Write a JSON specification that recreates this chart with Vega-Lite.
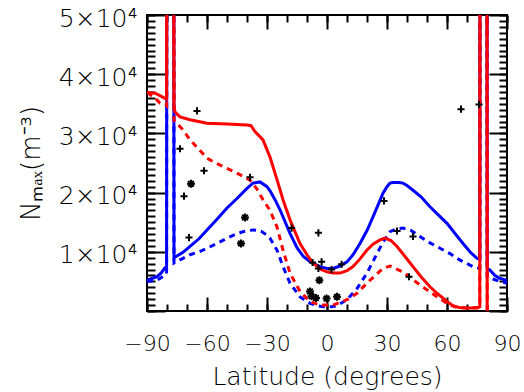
{
  "$schema": "https://vega.github.io/schema/vega-lite/v6.json",
  "width": 360,
  "height": 296,
  "autosize": {"type": "none"},
  "padding": {"left": 147, "top": 15, "right": 17, "bottom": 81},
  "background": "white",
  "config": {
    "view": {"stroke": "black", "strokeWidth": 2},
    "font": "DejaVu Sans",
    "axis": {"domain": false, "grid": false, "tickColor": "black", "tickWidth": 2, "labelColor": "black", "titleColor": "black", "labelFont": "DejaVu Sans", "titleFont": "DejaVu Sans", "titleFontWeight": 200, "labelFontWeight": 200}
  },
  "datasets": {
    "rs": [
      {"lat": -90, "n": 36900}, {"lat": -86, "n": 36800}, {"lat": -83, "n": 36300}, {"lat": -81, "n": 35900},
      {"lat": -80.2, "n": 35800}, {"lat": -80.1, "n": 60000}, {"lat": -76.6, "n": 60000}, {"lat": -76.5, "n": 34500},
      {"lat": -76, "n": 33600}, {"lat": -73.5, "n": 32800}, {"lat": -68.5, "n": 32300}, {"lat": -60, "n": 31700},
      {"lat": -50, "n": 31600}, {"lat": -40, "n": 31400}, {"lat": -38, "n": 31300}, {"lat": -36, "n": 30300},
      {"lat": -32, "n": 28900}, {"lat": -28.5, "n": 26000}, {"lat": -25, "n": 22200}, {"lat": -22, "n": 18800},
      {"lat": -18.5, "n": 15400}, {"lat": -13.5, "n": 11400}, {"lat": -10, "n": 9500}, {"lat": -7, "n": 8100},
      {"lat": -3, "n": 7000}, {"lat": 0, "n": 6600}, {"lat": 3, "n": 6400}, {"lat": 6.5, "n": 6400},
      {"lat": 10, "n": 6800}, {"lat": 13, "n": 7500}, {"lat": 16.5, "n": 8800}, {"lat": 20, "n": 10300},
      {"lat": 23, "n": 11300}, {"lat": 26.5, "n": 12000}, {"lat": 29, "n": 12300}, {"lat": 32, "n": 11900},
      {"lat": 35, "n": 10900}, {"lat": 39, "n": 9200}, {"lat": 43, "n": 7500}, {"lat": 47, "n": 5800},
      {"lat": 51.5, "n": 4100}, {"lat": 55, "n": 3000}, {"lat": 60, "n": 1600}, {"lat": 63, "n": 900},
      {"lat": 66, "n": 600}, {"lat": 70, "n": 500}, {"lat": 75, "n": 500}, {"lat": 76.4, "n": 700},
      {"lat": 76.5, "n": 60000}, {"lat": 80, "n": 60000}, {"lat": 80.1, "n": -2000}, {"lat": 90, "n": -2000}
    ],
    "rd": [
      {"lat": -90, "n": 36900}, {"lat": -86, "n": 36000}, {"lat": -83.5, "n": 35100}, {"lat": -80.5, "n": 34800},
      {"lat": -80.2, "n": 34700}, {"lat": -80.1, "n": 60000}, {"lat": -76.6, "n": 60000}, {"lat": -76.5, "n": 32200},
      {"lat": -75, "n": 31700}, {"lat": -72, "n": 30600}, {"lat": -68.5, "n": 28900}, {"lat": -64, "n": 27300},
      {"lat": -60, "n": 25800}, {"lat": -55, "n": 24900}, {"lat": -50, "n": 24100}, {"lat": -45, "n": 23300},
      {"lat": -38.5, "n": 22100}, {"lat": -35, "n": 20600}, {"lat": -32, "n": 18800}, {"lat": -28.5, "n": 17000},
      {"lat": -25, "n": 14200}, {"lat": -22, "n": 10300}, {"lat": -18.5, "n": 6400}, {"lat": -13.5, "n": 3300},
      {"lat": -8.5, "n": 1600}, {"lat": -3.5, "n": 1000}, {"lat": 3, "n": 1000}, {"lat": 10, "n": 1900},
      {"lat": 15, "n": 3000}, {"lat": 21.5, "n": 5200}, {"lat": 28, "n": 7200}, {"lat": 31.5, "n": 7600},
      {"lat": 38, "n": 6600}, {"lat": 46.5, "n": 4400}, {"lat": 55, "n": 2400}, {"lat": 61.5, "n": 1000},
      {"lat": 65, "n": 600}, {"lat": 70, "n": 500}, {"lat": 76, "n": 600}, {"lat": 76.4, "n": 700},
      {"lat": 76.5, "n": 60000}, {"lat": 80, "n": 60000}, {"lat": 80.1, "n": -2000}, {"lat": 90, "n": -2000}
    ],
    "bs": [
      {"lat": -90, "n": 5200}, {"lat": -85, "n": 5800}, {"lat": -83, "n": 6400}, {"lat": -81, "n": 7300},
      {"lat": -80.2, "n": 7500}, {"lat": -80.1, "n": 60000}, {"lat": -76.6, "n": 60000}, {"lat": -76.5, "n": 9000},
      {"lat": -72, "n": 9900}, {"lat": -68.5, "n": 10900}, {"lat": -64, "n": 12200}, {"lat": -60, "n": 13700},
      {"lat": -55, "n": 15500}, {"lat": -50, "n": 17400}, {"lat": -45, "n": 19000}, {"lat": -40, "n": 20700},
      {"lat": -37, "n": 21600}, {"lat": -33.5, "n": 21800}, {"lat": -30, "n": 21000}, {"lat": -28.5, "n": 20300},
      {"lat": -26, "n": 18800}, {"lat": -23.5, "n": 17100}, {"lat": -18.5, "n": 13100}, {"lat": -15, "n": 10700},
      {"lat": -11.8, "n": 9200}, {"lat": -8, "n": 8200}, {"lat": -3.5, "n": 7500}, {"lat": 0, "n": 7200},
      {"lat": 3, "n": 7200}, {"lat": 6.5, "n": 7600}, {"lat": 10, "n": 8300}, {"lat": 13, "n": 9500},
      {"lat": 16.5, "n": 11400}, {"lat": 20, "n": 13600}, {"lat": 23, "n": 15900}, {"lat": 26.5, "n": 18700},
      {"lat": 28, "n": 19900}, {"lat": 30, "n": 21000}, {"lat": 31.5, "n": 21600}, {"lat": 33, "n": 21700},
      {"lat": 36, "n": 21700}, {"lat": 38, "n": 21600}, {"lat": 40, "n": 21200}, {"lat": 43, "n": 20400},
      {"lat": 47, "n": 19300}, {"lat": 51.5, "n": 17600}, {"lat": 56, "n": 16100}, {"lat": 60, "n": 14800},
      {"lat": 64, "n": 13100}, {"lat": 68, "n": 11400}, {"lat": 72, "n": 9800}, {"lat": 75, "n": 8900},
      {"lat": 76.4, "n": 8700}, {"lat": 76.5, "n": 60000}, {"lat": 80, "n": 60000}, {"lat": 80.1, "n": 7200},
      {"lat": 81.5, "n": 6900}, {"lat": 84, "n": 6000}, {"lat": 86.5, "n": 5500}, {"lat": 90, "n": 5200}
    ],
    "bd": [
      {"lat": -90, "n": 5000}, {"lat": -85, "n": 5200}, {"lat": -83, "n": 5600}, {"lat": -81, "n": 6100},
      {"lat": -80.2, "n": 6300}, {"lat": -80.1, "n": 60000}, {"lat": -76.6, "n": 60000}, {"lat": -76.5, "n": 8100},
      {"lat": -72, "n": 8900}, {"lat": -68.5, "n": 9500}, {"lat": -64, "n": 10000}, {"lat": -60, "n": 10600},
      {"lat": -55, "n": 11400}, {"lat": -50, "n": 12300}, {"lat": -46, "n": 12900}, {"lat": -42, "n": 13400},
      {"lat": -37, "n": 13700}, {"lat": -33, "n": 13500}, {"lat": -30, "n": 12800}, {"lat": -28.5, "n": 12300},
      {"lat": -25, "n": 10300}, {"lat": -22, "n": 7500}, {"lat": -18.5, "n": 4700}, {"lat": -13.5, "n": 2400},
      {"lat": -8.5, "n": 1300}, {"lat": -5, "n": 900}, {"lat": -1.8, "n": 700}, {"lat": 2, "n": 700},
      {"lat": 5, "n": 900}, {"lat": 10, "n": 1900}, {"lat": 15, "n": 3800}, {"lat": 20, "n": 6400},
      {"lat": 25, "n": 9700}, {"lat": 28, "n": 11600}, {"lat": 31.5, "n": 13400}, {"lat": 35, "n": 13900},
      {"lat": 38, "n": 14000}, {"lat": 42, "n": 13600}, {"lat": 46.5, "n": 12600}, {"lat": 51.5, "n": 11500},
      {"lat": 56.5, "n": 10600}, {"lat": 61.5, "n": 9700}, {"lat": 66.5, "n": 8600}, {"lat": 70, "n": 8000},
      {"lat": 73, "n": 7500}, {"lat": 76.4, "n": 7200}, {"lat": 76.5, "n": 60000}, {"lat": 80, "n": 60000},
      {"lat": 80.1, "n": 5800}, {"lat": 83, "n": 5400}, {"lat": 86.5, "n": 5000}, {"lat": 90, "n": 4700}
    ],
    "plus": [
      {"lat": -65, "n": 33800}, {"lat": -73.5, "n": 27400}, {"lat": -61.5, "n": 23700}, {"lat": -38.5, "n": 22600},
      {"lat": -71.5, "n": 19400}, {"lat": -69, "n": 12400}, {"lat": -17.7, "n": 14000}, {"lat": -4.3, "n": 13200},
      {"lat": -7.2, "n": 8200}, {"lat": -2.7, "n": 8300}, {"lat": -4.3, "n": 7200}, {"lat": 2.3, "n": 7000},
      {"lat": 7.3, "n": 7900}, {"lat": 28.5, "n": 18600}, {"lat": 35, "n": 13500}, {"lat": 43, "n": 12600},
      {"lat": 41, "n": 5800}, {"lat": 67, "n": 34100}, {"lat": 76, "n": 34900}
    ],
    "star": [
      {"lat": -68, "n": 21500}, {"lat": -41, "n": 15800}, {"lat": -43, "n": 11400}, {"lat": -3.8, "n": 5200},
      {"lat": -8.5, "n": 3300}, {"lat": -7.7, "n": 2500}, {"lat": -5.5, "n": 2200}, {"lat": -0.2, "n": 2100},
      {"lat": 5, "n": 2400}
    ]
  },
  "layer": [
    {
      "data": {"name": "bs"},
      "mark": {"type": "line", "color": "#0000ff", "strokeWidth": 3, "clip": true},
      "encoding": {
        "x": {"field": "lat", "type": "quantitative", "scale": {"domain": [-90, 90], "nice": false, "zero": false},
          "axis": {"orient": "bottom", "values": [-90, -60, -30, 0, 30, 60, 90], "ticks": false, "tickSize": 0, "labelFontSize": 22, "labelPadding": 22, "labelFlush": false, "labelOverlap": false, "title": "Latitude (degrees)", "titleFontSize": 25, "titlePadding": 10}},
        "y": {"field": "n", "type": "quantitative", "scale": {"domain": [0, 50000], "nice": false, "zero": false},
          "axis": {"orient": "left", "values": [10000, 20000, 30000, 40000, 50000], "ticks": false, "tickSize": 0, "labelFontSize": 25, "labelPadding": 10, "labelOffset": 3, "labelOverlap": false, "labelFlush": false, "labelExpr": "datum.value / 10000 + '×10⁴'", "title": "Nₘₐₓ(m⁻³)", "titleFontSize": 26, "titlePadding": 14}}
      }
    },
    {
      "data": {"name": "bd"},
      "mark": {"type": "line", "color": "#0000ff", "strokeWidth": 3, "strokeDash": [6, 5], "clip": true},
      "encoding": {
        "x": {"field": "lat", "type": "quantitative", "scale": {"domain": [-90, 90], "nice": false, "zero": false},
          "axis": {"orient": "bottom", "values": [-90, -60, -30, 0, 30, 60, 90], "labels": false, "tickSize": -14, "title": null}},
        "y": {"field": "n", "type": "quantitative", "scale": {"domain": [0, 50000], "nice": false, "zero": false},
          "axis": {"orient": "left", "values": [0, 10000, 20000, 30000, 40000, 50000], "labels": false, "tickSize": -18, "title": null}}
      }
    },
    {
      "data": {"name": "rs"},
      "mark": {"type": "line", "color": "#ff0000", "strokeWidth": 3, "clip": true},
      "encoding": {
        "x": {"field": "lat", "type": "quantitative", "scale": {"domain": [-90, 90], "nice": false, "zero": false},
          "axis": {"orient": "bottom", "values": [-90, -80, -70, -60, -50, -40, -30, -20, -10, 0, 10, 20, 30, 40, 50, 60, 70, 80, 90], "labels": false, "tickSize": -7, "title": null}},
        "y": {"field": "n", "type": "quantitative", "scale": {"domain": [0, 50000], "nice": false, "zero": false},
          "axis": {"orient": "left", "values": [0, 1000, 2000, 3000, 4000, 5000, 6000, 7000, 8000, 9000, 10000, 11000, 12000, 13000, 14000, 15000, 16000, 17000, 18000, 19000, 20000, 21000, 22000, 23000, 24000, 25000, 26000, 27000, 28000, 29000, 30000, 31000, 32000, 33000, 34000, 35000, 36000, 37000, 38000, 39000, 40000, 41000, 42000, 43000, 44000, 45000, 46000, 47000, 48000, 49000, 50000], "labels": false, "tickSize": -8, "title": null}}
      }
    },
    {
      "data": {"name": "rd"},
      "mark": {"type": "line", "color": "#ff0000", "strokeWidth": 3, "strokeDash": [6, 5], "clip": true},
      "encoding": {
        "x": {"field": "lat", "type": "quantitative", "scale": {"domain": [-90, 90], "nice": false, "zero": false},
          "axis": {"orient": "top", "values": [-90, -60, -30, 0, 30, 60, 90], "labels": false, "tickSize": -14, "title": null}},
        "y": {"field": "n", "type": "quantitative", "scale": {"domain": [0, 50000], "nice": false, "zero": false},
          "axis": {"orient": "right", "values": [0, 10000, 20000, 30000, 40000, 50000], "labels": false, "tickSize": -18, "title": null}}
      }
    },
    {
      "data": {"name": "plus"},
      "mark": {"type": "point", "shape": "M-1,0H1M0,-1V1", "size": 50, "filled": false, "stroke": "black", "strokeWidth": 2, "opacity": 1},
      "encoding": {
        "x": {"field": "lat", "type": "quantitative", "scale": {"domain": [-90, 90], "nice": false, "zero": false},
          "axis": {"orient": "top", "values": [-90, -80, -70, -60, -50, -40, -30, -20, -10, 0, 10, 20, 30, 40, 50, 60, 70, 80, 90], "labels": false, "tickSize": -7, "title": null}},
        "y": {"field": "n", "type": "quantitative", "scale": {"domain": [0, 50000], "nice": false, "zero": false},
          "axis": {"orient": "right", "values": [0, 1000, 2000, 3000, 4000, 5000, 6000, 7000, 8000, 9000, 10000, 11000, 12000, 13000, 14000, 15000, 16000, 17000, 18000, 19000, 20000, 21000, 22000, 23000, 24000, 25000, 26000, 27000, 28000, 29000, 30000, 31000, 32000, 33000, 34000, 35000, 36000, 37000, 38000, 39000, 40000, 41000, 42000, 43000, 44000, 45000, 46000, 47000, 48000, 49000, 50000], "labels": false, "tickSize": -8, "title": null}}
      }
    },
    {
      "data": {"name": "star"},
      "mark": {"type": "point", "shape": "M-1,0H1M0,-1V1M-0.7,-0.7L0.7,0.7M-0.7,0.7L0.7,-0.7", "size": 64, "filled": false, "stroke": "black", "strokeWidth": 2, "opacity": 1},
      "encoding": {
        "x": {"field": "lat", "type": "quantitative", "scale": {"domain": [-90, 90], "nice": false, "zero": false}, "axis": null},
        "y": {"field": "n", "type": "quantitative", "scale": {"domain": [0, 50000], "nice": false, "zero": false}, "axis": null}
      }
    }
  ],
  "resolve": {"axis": {"x": "independent", "y": "independent"}}
}
